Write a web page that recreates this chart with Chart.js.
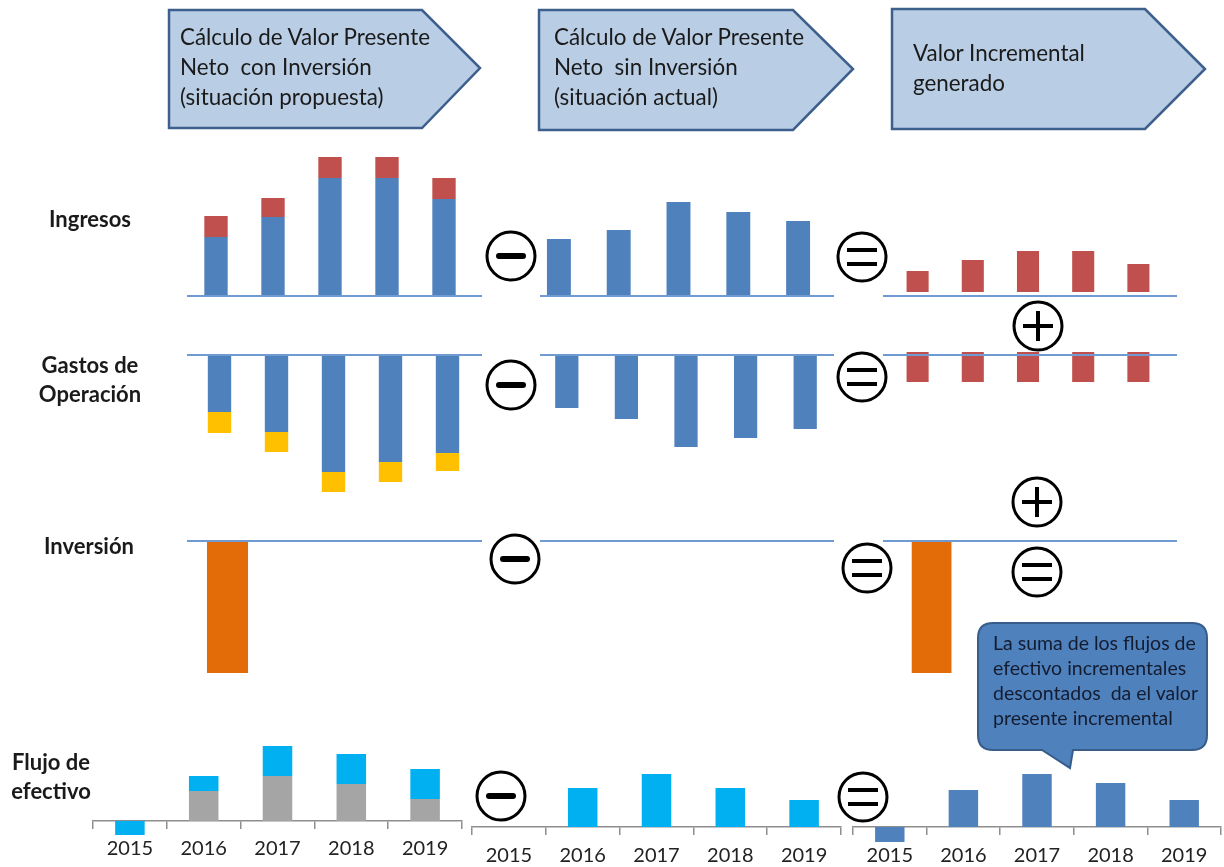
<!DOCTYPE html>
<html><head><meta charset="utf-8">
<script src="https://cdn.jsdelivr.net/npm/chart.js@4.4.1/dist/chart.umd.min.js"></script>
<style>
html,body{margin:0;padding:0;background:#fff;}
#stage{position:relative;width:1224px;height:867px;overflow:hidden;font-family:Lato,"Open Sans",sans-serif;}
#stage canvas{position:absolute;}
#deco{position:absolute;left:0;top:0;z-index:2;}
.t{position:absolute;white-space:nowrap;color:#1a1a1a;z-index:3;}
.hdr{font-size:22.4px;line-height:30px;}
.lbl{font-weight:bold;font-size:22px;line-height:29px;text-align:center;}
.call{font-size:19.5px;line-height:25px;color:#141c30;}
</style></head>
<body><div id="stage">
<svg id="deco" width="1224" height="867" viewBox="0 0 1224 867">
  <g fill="#b9cde5" stroke="#3d5f8c" stroke-width="2.5" stroke-linejoin="miter">
    <polygon points="169,10 422,10 480,68 422,128 169,128"/>
    <polygon points="539,10 793,10 853,69 793,130 539,130"/>
    <polygon points="892,9 1145,9 1205,69 1145,129 892,129"/>
  </g>
  <path d="M993,623 L1192,623 Q1207,623 1207,638 L1207,735 Q1207,750 1192,750 L1073,750 L1070,768 L1042,750 L993,750 Q978,750 978,735 L978,638 Q978,623 993,623 Z" fill="#4f81bd" stroke="#385d8a" stroke-width="2"/>
  <g id="ops" stroke="#000" fill="#fff"></g>
</svg>

<div class="t hdr" style="left:180px;top:22px;">Cálculo de Valor Presente<br>Neto&nbsp; con Inversión<br>(situación propuesta)</div>
<div class="t hdr" style="left:554px;top:22px;">Cálculo de Valor Presente<br>Neto&nbsp; sin Inversión<br>(situación actual)</div>
<div class="t hdr" style="left:913px;top:38px;">Valor Incremental<br>generado</div>

<div class="t lbl" style="left:20px;width:140px;top:204px;">Ingresos</div>
<div class="t lbl" style="left:20px;width:140px;top:350px;">Gastos de<br>Operación</div>
<div class="t lbl" style="left:19px;width:140px;top:531px;">Inversión</div>
<div class="t lbl" style="left:-19px;width:140px;top:747px;">Flujo de<br>efectivo</div>

<div class="t call" style="left:993px;top:630px;">La suma de los flujos de<br>efectivo incrementales<br>descontados&nbsp; da el valor<br>presente incremental</div>
</div>

<script>
// ---------- data ----------
const years = ['2015', '2016', '2017', '2018', '2019'];

const ingresosConBase = [59, 79, 118, 118, 97];
const ingresosConExtra = [21, 19, 21, 21, 21];
const ingresosSin = [57, 66, 94, 84, 75];
const ingresosIncremental = [21, 32, 41, 41, 28];

const gastosConBase = [-57, -77, -117, -107, -98];
const gastosConExtra = [-21, -20, -20, -20, -18];
const gastosSin = [-53, -64, -92, -83, -74];
const gastosIncremental = [-30, -30, -30, -30, -30];

const inversionCon = [-132, null, null, null, null];
const inversionSin = [null, null, null, null, null];
const inversionIncremental = [-132, null, null, null, null];

const flujoConBase = [0, 30, 45, 37, 22];
const flujoConExtra = [-14, 15, 30, 30, 30];
const flujoSin = [0, 39, 53, 39, 27];
const flujoIncremental = [-15, 37, 53, 44, 27];

// ---------- colours ----------
const C = {blue:'#4f81bd', red:'#c0504d', yellow:'#ffc000', orange:'#e36c09', cyan:'#00b0f0', gray:'#a5a5a5', line:'#6f9bd2', axis:'#8e8e8e'};

const baseLine = {
  id: 'baseLine',
  afterDatasetsDraw(chart, args, o) {
    if (!o || !o.show) return;
    const y = chart.scales.y.getPixelForValue(0);
    const ctx = chart.ctx;
    ctx.save();
    ctx.strokeStyle = o.color; ctx.lineWidth = o.width;
    ctx.beginPath(); ctx.moveTo(o.x0, y); ctx.lineTo(o.x1, y); ctx.stroke();
    ctx.restore();
  }
};

const stage = document.getElementById('stage');

function panel(p) {
  const axisH = p.axis ? p.axisH : 0;
  const cl = Math.min(p.catStart, p.lineX0 ?? p.catStart) - (p.axis ? 2 : 0);
  const cr = Math.max(p.catEnd, p.lineX1 ?? p.catEnd) + (p.axis ? 2 : 0);
  const cv = document.createElement('canvas');
  cv.width = Math.round(cr - cl);
  cv.height = Math.round(p.up + p.down + axisH);
  cv.style.left = cl + 'px';
  cv.style.top = (p.baseline - p.up) + 'px';
  stage.appendChild(cv);
  const ds = p.datasets.map(d => Object.assign({
    categoryPercentage: 1, barPercentage: p.barPct, borderWidth: 0, clip: false
  }, d));
  new Chart(cv, {
    type: 'bar',
    data: {labels: years, datasets: ds},
    plugins: [baseLine],
    options: {
      responsive: false, animation: false, devicePixelRatio: 1,
      events: [],
      layout: {padding: {left: p.catStart - cl, right: cr - p.catEnd, top: 0, bottom: 0}},
      plugins: {
        legend: {display: false}, tooltip: {enabled: false},
        baseLine: p.axis ? {show: false} : {show: true, color: C.line, width: 2, x0: p.lineX0 - cl, x1: p.lineX1 - cl}
      },
      scales: {
        x: p.axis ? {
          stacked: !!p.stacked,
          offset: true,
          afterFit(s) { s.height = axisH; },
          border: {display: true, color: C.axis, width: 1.5},
          grid: {display: true, offset: true, drawOnChartArea: false, drawTicks: true, tickLength: 8, color: C.axis, lineWidth: 1.5},
          ticks: {font: {family: 'Lato', size: 20}, color: '#222', padding: p.tickPad, maxRotation: 0}
        } : {display: false, stacked: !!p.stacked, offset: true},
        y: {display: false, stacked: !!p.stacked, min: p.axis ? 0 : -p.down, max: p.up}
      }
    }
  });
}

// Ingresos row
panel({catStart:187.5, catEnd:472.5, lineX0:187, lineX1:482, baseline:296, up:146, down:4, barPct:0.41, stacked:true,
  datasets:[{data:ingresosConBase, backgroundColor:C.blue},{data:ingresosConExtra, backgroundColor:C.red}]});
panel({catStart:529, catEnd:828, lineX0:540, lineX1:834, baseline:296, up:100, down:4, barPct:0.4,
  datasets:[{data:ingresosSin, backgroundColor:C.blue}]});
panel({catStart:890, catEnd:1166, lineX0:883, lineX1:1177, baseline:296, up:60, down:4, barPct:0.4,
  datasets:[{data:ingresosIncremental.map(v => [4, 4 + v]), backgroundColor:C.red}]});

// Gastos row
panel({catStart:191, catEnd:476, lineX0:187, lineX1:482, baseline:355, up:4, down:145, barPct:0.41, stacked:true,
  datasets:[{data:gastosConBase, backgroundColor:C.blue},{data:gastosConExtra, backgroundColor:C.yellow}]});
panel({catStart:537, catEnd:835, lineX0:540, lineX1:834, baseline:355, up:4, down:100, barPct:0.39,
  datasets:[{data:gastosSin, backgroundColor:C.blue}]});
panel({catStart:890, catEnd:1166, lineX0:883, lineX1:1177, baseline:355, up:6, down:35, barPct:0.4,
  datasets:[{data:gastosIncremental.map(v => [3, 3 + v]), backgroundColor:C.red}]});

// Inversion row
panel({catStart:199, catEnd:484, lineX0:187, lineX1:482, baseline:541, up:4, down:140, barPct:0.72,
  datasets:[{data:inversionCon, backgroundColor:C.orange}]});
panel({catStart:540, catEnd:834, lineX0:540, lineX1:834, baseline:541, up:4, down:10, barPct:0.72,
  datasets:[{data:inversionSin, backgroundColor:C.orange}]});
panel({catStart:904, catEnd:1180, lineX0:883, lineX1:1177, baseline:541, up:4, down:140, barPct:0.72,
  datasets:[{data:inversionIncremental, backgroundColor:C.orange}]});

// Flujo row
panel({axis:true, axisH:42, tickPad:8, catStart:93, catEnd:462, baseline:821, up:85, down:0, barPct:0.4, stacked:true,
  datasets:[{data:flujoConBase, backgroundColor:C.gray},{data:flujoConExtra, backgroundColor:C.cyan}]});
panel({axis:true, axisH:42, tickPad:9, catStart:472, catEnd:841, baseline:827, up:70, down:0, barPct:0.4,
  datasets:[{data:flujoSin, backgroundColor:C.cyan}]});
panel({axis:true, axisH:40, tickPad:9, catStart:853, catEnd:1221, baseline:827, up:70, down:0, barPct:0.4,
  datasets:[{data:flujoIncremental, backgroundColor:C.blue}]});

// ---------- operator circles ----------
const ops = [
  ['minus', 511, 256], ['equals', 862, 257],
  ['minus', 511, 385], ['equals', 862, 377],
  ['plus', 1038, 326],
  ['minus', 515, 559], ['equals', 867, 568],
  ['plus', 1037, 502], ['equals', 1037, 572],
  ['minus', 501, 796], ['equals', 863, 797]
];
const g = document.getElementById('ops');
const NS = 'http://www.w3.org/2000/svg';
function el(tag, attrs) { const e = document.createElementNS(NS, tag); for (const k in attrs) e.setAttribute(k, attrs[k]); g.appendChild(e); return e; }
ops.forEach(([k, x, y]) => {
  el('circle', {cx:x, cy:y, r:24, 'stroke-width':3, fill:'#fff'});
  if (k === 'minus') el('line', {x1:x-12, y1:y, x2:x+12, y2:y, 'stroke-width':6, 'stroke-linecap':'round'});
  if (k === 'equals') { el('line', {x1:x-15, y1:y-7, x2:x+15, y2:y-7, 'stroke-width':4}); el('line', {x1:x-15, y1:y+7, x2:x+15, y2:y+7, 'stroke-width':4}); }
  if (k === 'plus') { el('line', {x1:x-15, y1:y, x2:x+15, y2:y, 'stroke-width':4}); el('line', {x1:x, y1:y-15, x2:x, y2:y+15, 'stroke-width':4}); }
});
</script>
</body></html>
